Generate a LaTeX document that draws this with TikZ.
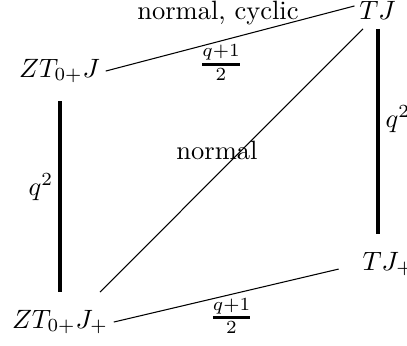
\documentclass[tikz,border=0pt]{standalone}
\usetikzlibrary{calc}
\begin{document}
\begin{tikzpicture}[x=0.3774pt,y=-0.3774pt,
  obj/.style={inner sep=2pt,anchor=base},
  lbl/.style={inner sep=0pt},
  thin/.style={line width=0.4pt},
  thick/.style={line width=1.2pt}]
\useasboundingbox (0,0) rectangle (407,345);
\clip (0,0) rectangle (407,345);
% objects
\node[obj] (zj)  at (59.5,77) {$ZT_{0+}J$};
\node[obj] (tj)  at (377.5,19) {$TJ$};
\node[obj] (zjp) at (60,328) {$ZT_{0+}J_+$};
\node[obj,anchor=base west] (tjp) at (356.7,270) {$TJ_+$};
% connectors
\draw[thin] (zj.east) -- ($(tj.west)+(1,-4)$);
\draw[thin] ($(zjp.north)+(40,-12)$) -- ($(tj.south)+(-14.5,4)$);
\draw[thin] (zjp.east) -- ($(tjp.west)+(-18,5)$);
\draw[thick] ($(zj.south)+(0.5,12)$) -- ($(zj.south |- zjp.north)+(0.5,-12)$);
\draw[thick] ($(tj.south)+(0.5,4)$) -- ($(tj.south |- tjp.north)+(0.5,-11.7)$);
% labels
\node[lbl,anchor=base] (l1) at (218,19) {normal, cyclic};
\node[lbl] (l2) at (221,62.5) {$\textstyle{q+1\above 1pt 2}$};
\node[lbl,anchor=base] (l3) at (217,159) {normal};
\node[lbl,anchor=base west] (l4) at (28,195) {$q^2$};
\node[lbl,anchor=base west] (l5) at (385,127) {$q^2$};
\node[lbl] (l6) at (231.5,316) {$\textstyle{q+1\above 1pt 2}$};
\end{tikzpicture}
\end{document}
